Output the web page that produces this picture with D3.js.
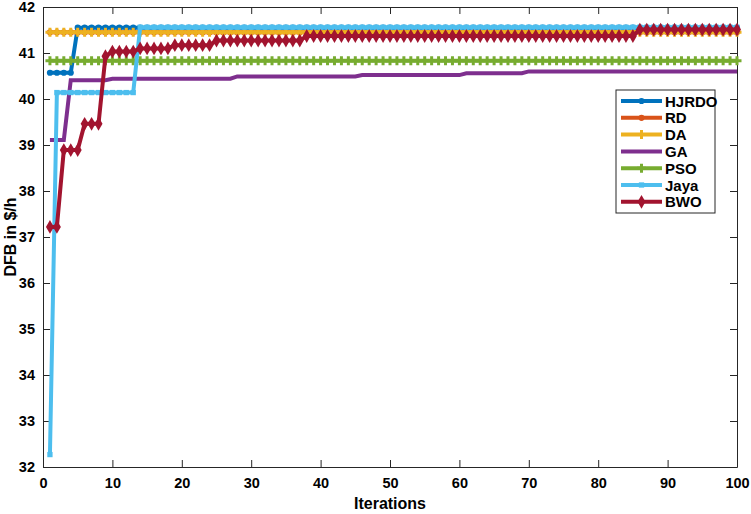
<!DOCTYPE html>
<html>
<head>
<meta charset="utf-8">
<script src="https://cdn.jsdelivr.net/npm/d3@7"></script>
<style>
  body { margin: 0; background: #fff; }
  text { font-family: "Liberation Sans", Arial, sans-serif; font-weight: bold; }
</style>
</head>
<body>
<div id="graph"></div>
<script>
// step data: [first iteration, value] - value holds until next step
const iterations = d3.range(1, 101);
const xTicks = [0, 10, 20, 30, 40, 50, 60, 70, 80, 90, 100];
const yTicks = [32, 33, 34, 35, 36, 37, 38, 39, 40, 41, 42];

const hjrdoSteps = [[1, 40.57], [5, 41.55]];
const rdSteps = [[1, 41.45]];
const daSteps = [[1, 41.45]];
const gaSteps = [[1, 39.11], [4, 40.41], [10, 40.44], [28, 40.49], [46, 40.52], [61, 40.56], [70, 40.6]];
const psoSteps = [[1, 40.83]];
const jayaSteps = [[1, 32.27], [2, 40.14], [14, 41.56]];
const bwoSteps = [[1, 37.22], [3, 38.89], [6, 39.46], [9, 40.93], [10, 41.03], [14, 41.1], [19, 41.17], [25, 41.27], [38, 41.37], [86, 41.51]];

const seriesNames = ["HJRDO", "RD", "DA", "GA", "PSO", "Jaya", "BWO"];
const seriesColors = ["#0072BD", "#D95319", "#EDB120", "#7E2F8E", "#77AC30", "#4DBEEE", "#A2142F"];
const seriesMarkers = ["circle", "circle", "star", "none", "cross", "square", "diamond"];
const seriesSteps = [hjrdoSteps, rdSteps, daSteps, gaSteps, psoSteps, jayaSteps, bwoSteps];

function expand(steps) {
	return iterations.map((it) => {
		let v = steps[0][1];
		steps.forEach((s) => { if (it >= s[0]) v = s[1]; });
		return { it: it, v: v };
	});
}

const W = 751, H = 514;
const margin = { top: 7, right: 14, bottom: 47, left: 43 };
const width = W - margin.left - margin.right,
	height = H - margin.top - margin.bottom;

const svg = d3.select("#graph").append("svg")
	.attr("width", W).attr("height", H)
	.append("g")
	.attr("transform", "translate(" + margin.left + "," + margin.top + ")");

const x = d3.scaleLinear().domain([0, 100]).range([0, width]);
const y = d3.scaleLinear().domain([32, 42]).range([height, 0]);

// axes with inside ticks (box on)
svg.append("g").attr("transform", "translate(0," + height + ")")
	.call(d3.axisBottom(x).tickValues(xTicks).tickSizeInner(-7).tickSizeOuter(0).tickPadding(11))
	.call((g) => g.selectAll("text").attr("font-size", 14.5).attr("fill", "#000"));
svg.append("g")
	.call(d3.axisLeft(y).tickValues(yTicks).tickSizeInner(-7).tickSizeOuter(0).tickPadding(8))
	.call((g) => g.selectAll("text").attr("font-size", 14.5).attr("fill", "#000").attr("dy", "0.34em"));
svg.append("g")
	.call(d3.axisTop(x).tickValues(xTicks).tickSizeInner(-7).tickSizeOuter(0))
	.call((g) => g.selectAll("text").remove());
svg.append("g").attr("transform", "translate(" + width + ",0)")
	.call(d3.axisRight(y).tickValues(yTicks).tickSizeInner(-7).tickSizeOuter(0))
	.call((g) => g.selectAll("text").remove());
svg.selectAll(".domain").attr("stroke", "#262626");
svg.selectAll(".tick line").attr("stroke", "#262626");

const symbolFor = {
	circle: d3.symbol().type(d3.symbolCircle).size(30),
	star: d3.symbol().type(d3.symbolCross).size(45),
	cross: d3.symbol().type(d3.symbolCross).size(45),
	square: d3.symbol().type(d3.symbolSquare).size(28),
	diamond: d3.symbol().type(d3.symbolDiamond).size(55)
};

const line = d3.line().curve(d3.curveLinear).x((d) => x(d.it)).y((d) => y(d.v));

seriesSteps.forEach((steps, i) => {
	const data = expand(steps);
	svg.append("path").datum(data)
		.attr("d", line)
		.attr("fill", "none")
		.attr("stroke", seriesColors[i])
		.attr("stroke-width", 4);
	if (seriesMarkers[i] !== "none") {
		svg.selectAll(null).data(data).enter().append("path")
			.attr("d", symbolFor[seriesMarkers[i]]())
			.attr("transform", (d) => "translate(" + x(d.it) + "," + y(d.v) + ")")
			.attr("fill", seriesColors[i]);
	}
});

// axis labels
svg.append("text").attr("x", width / 2).attr("y", height + 42)
	.attr("text-anchor", "middle").attr("font-size", 16).text("Iterations");
svg.append("text").attr("transform", "translate(-27," + height / 2 + ") rotate(-90)")
	.attr("text-anchor", "middle").attr("font-size", 16).text("DFB in $/h");

// legend
const lg = svg.append("g").attr("transform", "translate(" + (616 - margin.left) + "," + (90 - margin.top) + ")");
lg.append("rect").attr("width", 99).attr("height", 123)
	.attr("fill", "#fff").attr("stroke", "#262626").attr("stroke-width", 1);
seriesNames.forEach((name, i) => {
	const ry = 11 + i * 16.8;
	lg.append("line").attr("x1", 5).attr("x2", 46).attr("y1", ry).attr("y2", ry)
		.attr("stroke", seriesColors[i]).attr("stroke-width", 4);
	if (seriesMarkers[i] !== "none") {
		lg.append("path").attr("d", symbolFor[seriesMarkers[i]]())
			.attr("transform", "translate(25.5," + ry + ")").attr("fill", seriesColors[i]);
	}
	lg.append("text").attr("x", 49).attr("y", ry + 5.5).attr("font-size", 15).text(name);
});
</script>
</body>
</html>
